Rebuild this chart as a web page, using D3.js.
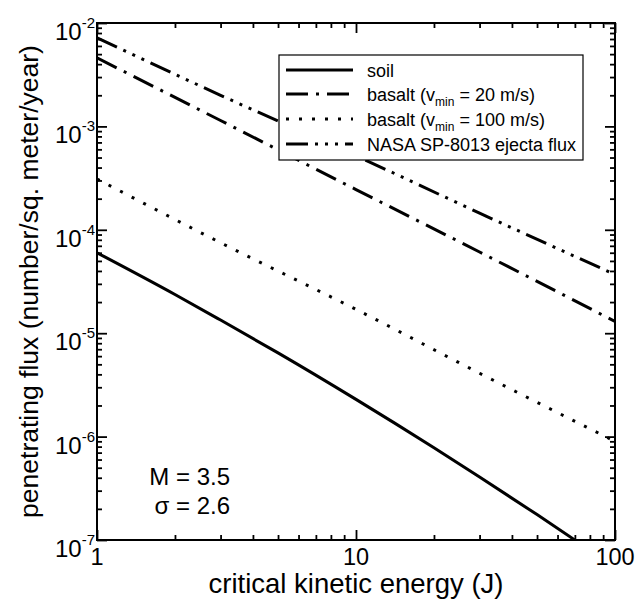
<!DOCTYPE html>
<html><head><meta charset="utf-8">
<script src="https://cdn.jsdelivr.net/npm/d3@7"></script>
<style>body{margin:0;background:#fff}svg{display:block}text{font-family:"Liberation Sans",Arial,Helvetica,sans-serif;fill:#000}</style>
</head><body><svg id="c" width="639" height="600"></svg>
<script>
// ---- data ----
const energy = [1, 3, 10, 30, 100];
const soilEnergy = [1, 2, 3, 5, 10, 20, 30, 50, 70];
const soil = [6.0e-5, 2.37e-5, 1.34e-5, 6.45e-6, 2.29e-6, 7.8e-7, 4.07e-7, 1.76e-7, 1.0e-7];
const basalt20 = [4.6e-3, 1.14e-3, 2.45e-4, 6.1e-5, 1.3e-5];
const basalt100 = [3.1e-4, 7.5e-5, 1.7e-5, 4.1e-6, 9.0e-7];
const nasa = [7.2e-3, 2.0e-3, 5.2e-4, 1.45e-4, 3.7e-5];
const xTickLabels = ["1", "10", "100"];
const xMajor = [1, 10, 100];
const yExponents = [-7, -6, -5, -4, -3, -2];
const legendLabels = ["soil", "basalt (v", "basalt (v", "NASA SP-8013 ejecta flux"];

// ---- layout ----
const L = 97, R = 615, T = 23, B = 540;
const svg = d3.select("#c");
const x = d3.scaleLog().domain([1, 100]).range([L, R]);
const y = d3.scaleLog().domain([1e-7, 1e-2]).range([B, T]);

const allX = x.ticks();
const allY = y.ticks();
const isMajor = v => Math.abs(Math.log10(v) - Math.round(Math.log10(v))) < 1e-9;
const xMin = allX.filter(v => !isMajor(v)), xMaj = allX.filter(isMajor);
const yMin = allY.filter(v => !isMajor(v)), yMaj = allY.filter(isMajor);

function axis(gen, tr, vals, size) {
  const g = svg.append("g").attr("transform", tr)
    .call(gen.tickValues(vals).tickSize(size).tickFormat(""));
  g.select(".domain").remove();
  g.selectAll("line").attr("stroke", "#000").attr("stroke-width", 1.8);
}
axis(d3.axisBottom(x), `translate(0,${B})`, xMin, -5);
axis(d3.axisBottom(x), `translate(0,${B})`, xMaj, -10);
axis(d3.axisTop(x), `translate(0,${T})`, xMin, -5);
axis(d3.axisTop(x), `translate(0,${T})`, xMaj, -10);
axis(d3.axisLeft(y), `translate(${L},0)`, yMin, -5);
axis(d3.axisLeft(y), `translate(${L},0)`, yMaj, -10);
axis(d3.axisRight(y), `translate(${R},0)`, yMin, -5);
axis(d3.axisRight(y), `translate(${R},0)`, yMaj, -10);

// ---- series ----
const line = d3.line().x(d => x(d[0])).y(d => y(d[1])).curve(d3.curveMonotoneX);
svg.append("clipPath").attr("id", "pc").append("rect")
  .attr("x", L).attr("y", T).attr("width", R - L).attr("height", B - T);
const series = [
  {xs: soilEnergy, ys: soil, dash: null},
  {xs: energy, ys: basalt20, dash: "22,8,3,8"},
  {xs: energy, ys: basalt100, dash: "3,10"},
  {xs: energy, ys: nasa, dash: "22,7,3,7,3,7,3,7"}
];
const pg = svg.append("g").attr("clip-path", "url(#pc)");
series.forEach(s => {
  pg.append("path").datum(s.xs.map((v, i) => [v, s.ys[i]]))
    .attr("d", line).attr("fill", "none").attr("stroke", "#000")
    .attr("stroke-width", 3).attr("stroke-dasharray", s.dash);
});

// frame
svg.append("rect").attr("x", L).attr("y", T).attr("width", R - L).attr("height", B - T)
  .attr("fill", "none").attr("stroke", "#000").attr("stroke-width", 2);

// ---- tick labels ----
xMajor.forEach((v, i) => {
  svg.append("text").attr("x", x(v)).attr("y", B + 25).attr("text-anchor", "middle")
    .attr("font-size", 23.5).text(xTickLabels[i]);
});
yExponents.forEach(e => {
  const t = svg.append("text").attr("x", L - 2).attr("y", y(Math.pow(10, e)) + 17)
    .attr("text-anchor", "end").attr("font-size", 24);
  t.append("tspan").text("10");
  t.append("tspan").attr("font-size", 15).attr("dy", -12).text("-" + Math.abs(e));
});

// ---- axis titles ----
svg.append("text").attr("x", (L + R) / 2).attr("y", 593).attr("text-anchor", "middle")
  .attr("font-size", 27.5).text("critical kinetic energy (J)");
svg.append("text").attr("transform", `translate(38,${(T + B) / 2}) rotate(-90)`)
  .attr("text-anchor", "middle").attr("font-size", 26.5)
  .text("penetrating flux (number/sq. meter/year)");

// ---- annotation ----
svg.append("text").attr("x", 230).attr("y", 485).attr("text-anchor", "end").attr("font-size", 24).text("M = 3.5");
svg.append("text").attr("x", 230).attr("y", 514).attr("text-anchor", "end").attr("font-size", 24).text("σ = 2.6");

// ---- legend ----
const lg = svg.append("g");
lg.append("rect").attr("x", 279).attr("y", 55).attr("width", 304).attr("height", 105)
  .attr("fill", "#fff").attr("stroke", "#000").attr("stroke-width", 1.2);
const rowY = [77, 101, 126, 151];
const subs = [null, " = 20 m/s)", " = 100 m/s)", null];
series.forEach((s, i) => {
  lg.append("line").attr("x1", 286).attr("x2", 353)
    .attr("y1", rowY[i] - 7).attr("y2", rowY[i] - 7)
    .attr("stroke", "#000").attr("stroke-width", 3).attr("stroke-dasharray", s.dash);
  const t = lg.append("text").attr("x", 367).attr("y", rowY[i]).attr("font-size", 18);
  t.append("tspan").text(legendLabels[i]);
  if (subs[i]) {
    t.append("tspan").attr("font-size", 12).attr("dy", 5).text("min");
    t.append("tspan").attr("dy", -5).text(subs[i]);
  }
});
</script></body></html>
